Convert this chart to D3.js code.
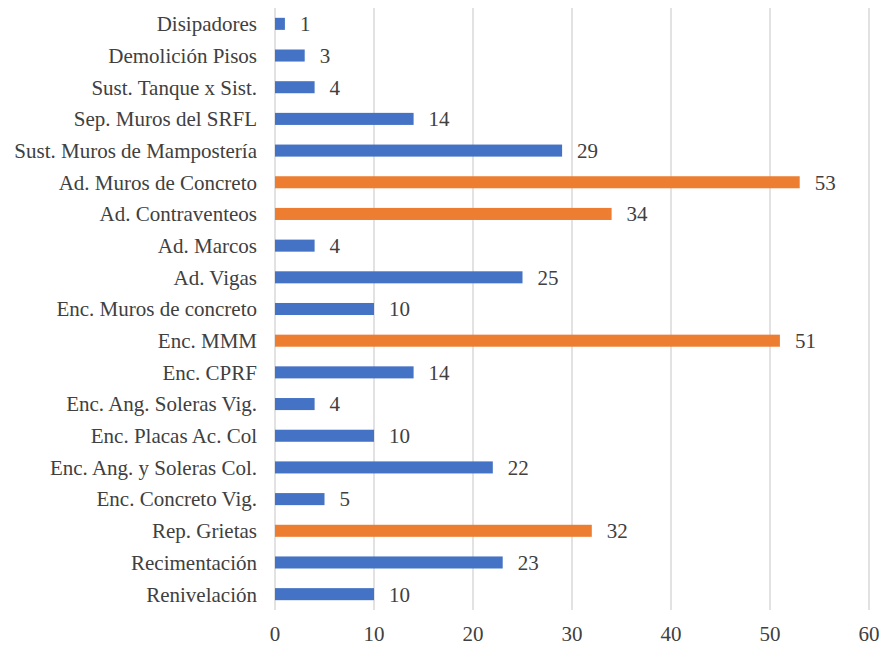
<!DOCTYPE html>
<html>
<head>
<meta charset="utf-8">
<script src="https://cdn.jsdelivr.net/npm/d3@7"></script>
<style>
  body { margin: 0; background: #fff; font-family: "Liberation Serif", "Times New Roman", serif; }
  svg text { font-family: "Liberation Serif", "Times New Roman", serif !important; }
</style>
</head>
<body>
<div id="chart"></div>
<script>
// categories from top to bottom
var categories = ["Disipadores", "Demolición Pisos", "Sust. Tanque x Sist.", "Sep. Muros del SRFL",
  "Sust. Muros de Mampostería", "Ad. Muros de Concreto", "Ad. Contraventeos", "Ad. Marcos", "Ad. Vigas",
  "Enc. Muros de concreto", "Enc. MMM", "Enc. CPRF", "Enc. Ang. Soleras Vig.", "Enc. Placas Ac. Col",
  "Enc. Ang. y Soleras Col.", "Enc. Concreto Vig.", "Rep. Grietas", "Recimentación", "Renivelación"];
var values = [1, 3, 4, 14, 29, 53, 34, 4, 25, 10, 51, 14, 4, 10, 22, 5, 32, 23, 10];
// highlighted categories (orange)
var highlighted = ["Ad. Muros de Concreto", "Ad. Contraventeos", "Enc. MMM", "Rep. Grietas"];
var xTicks = [0, 10, 20, 30, 40, 50, 60];

var width = 881, height = 645;
var textStyle = "font-family:'Liberation Serif','Times New Roman',serif;font-size:21px";
var textColor = "#404040";

var svg = d3.select("#chart").append("svg")
    .attr("width", width)
    .attr("height", height)
    .attr("font-family", "Liberation Serif, Times New Roman, serif")
    .attr("font-size", 21);

//x scale
var x = d3.scaleLinear()
    .domain([0, 60])
    .range([275, 869]);

//y scale
var y = d3.scaleBand()
    .domain(categories)
    .range([8, 610])
    .paddingInner(0.62)
    .paddingOuter(0.31);

//gridlines
svg.append("g")
    .selectAll("line")
    .data(xTicks)
    .enter()
    .append("line")
    .attr("x1", function(d) { return x(d); })
    .attr("x2", function(d) { return x(d); })
    .attr("y1", 8)
    .attr("y2", 610)
    .attr("stroke", "#d9d9d9")
    .attr("stroke-width", 1.5);

//x axis labels
svg.selectAll("text.xtick")
    .data(xTicks)
    .enter()
    .append("text")
    .attr("class", "xtick")
    .attr("x", function(d) { return x(d); })
    .attr("y", 634)
    .attr("dy", "0.35em")
    .attr("text-anchor", "middle")
    .attr("style", textStyle)
    .attr("fill", textColor)
    .text(function(d) { return d; });

//y axis labels
svg.selectAll("text.ytick")
    .data(categories)
    .enter()
    .append("text")
    .attr("class", "ytick")
    .attr("x", x(0) - 18)
    .attr("y", function(d) { return y(d) + y.bandwidth() / 2; })
    .attr("dy", "0.35em")
    .attr("text-anchor", "end")
    .attr("style", textStyle)
    .attr("fill", textColor)
    .text(function(d) { return d; });

//bars
svg.append("g")
    .selectAll("rect")
    .data(categories)
    .enter()
    .append("rect")
    .attr("x", x(0))
    .attr("y", function(d) { return y(d); })
    .attr("width", function(d, i) { return x(values[i]) - x(0); })
    .attr("height", y.bandwidth())
    .attr("fill", function(d) { return highlighted.indexOf(d) >= 0 ? "#ED7D31" : "#4472C4"; });

//data labels
svg.selectAll("text.vlabel")
    .data(categories)
    .enter()
    .append("text")
    .attr("class", "vlabel")
    .attr("x", function(d, i) { return x(values[i]) + 15; })
    .attr("y", function(d) { return y(d) + y.bandwidth() / 2; })
    .attr("dy", "0.35em")
    .attr("style", textStyle)
    .attr("fill", textColor)
    .text(function(d, i) { return values[i]; });
</script>
</body>
</html>
